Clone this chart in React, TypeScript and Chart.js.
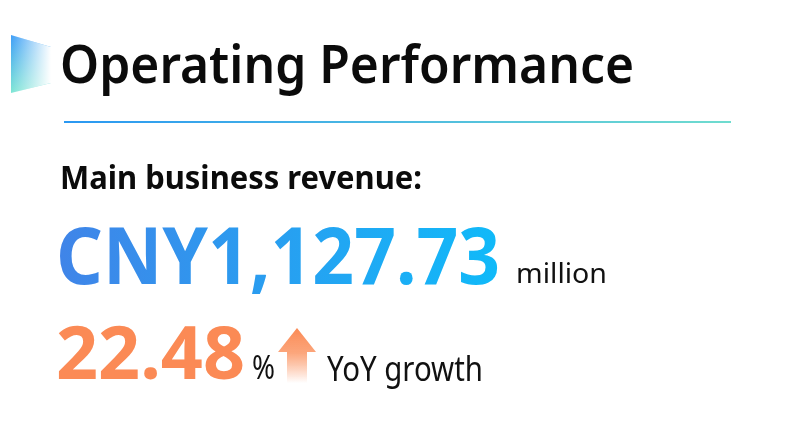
import React, { useEffect, useRef } from "react";
import { Chart, registerables } from "chart.js";

Chart.register(...registerables);

const HEADINGS = ["Operating Performance", "Main business revenue:"];
const REVENUE_CURRENCY = ["CNY"];
const REVENUE_VALUES = [1127.73];
const REVENUE_UNITS = ["million"];
const GROWTH_VALUES = [22.48];
const GROWTH_LABELS = ["%", "YoY growth"];

const FAMILY = '"Noto Sans", "Open Sans", sans-serif';

// draws text at a given font size, squeezed horizontally to a target width
function drawText(
  ctx: CanvasRenderingContext2D,
  text: string,
  weight: number,
  size: number,
  x: number,
  baseline: number,
  targetW: number,
  fill: (w: number) => string | CanvasGradient
) {
  ctx.save();
  ctx.font = `${weight} ${size}px ${FAMILY}`;
  const w = ctx.measureText(text).width;
  ctx.translate(x, baseline);
  ctx.scale(targetW / w, 1);
  ctx.fillStyle = fill(w);
  ctx.fillText(text, 0, 0);
  ctx.restore();
}

const infoPlugin = {
  id: "infoPlugin",
  afterDraw(chart: any) {
    const ctx: CanvasRenderingContext2D = chart.ctx;
    ctx.save();
    ctx.textBaseline = "alphabetic";
    ctx.textAlign = "left";
    const ink = () => "#0b0b0b";

    // decorative trapezoid
    const gv = ctx.createLinearGradient(0, 35, 0, 93);
    gv.addColorStop(0, "#3f9ef8");
    gv.addColorStop(1, "#7ee6d4");
    ctx.beginPath();
    ctx.moveTo(11, 35);
    ctx.lineTo(51, 47);
    ctx.lineTo(51, 83);
    ctx.lineTo(11, 93);
    ctx.closePath();
    ctx.fillStyle = gv;
    ctx.fill();
    const gh = ctx.createLinearGradient(11, 0, 51, 0);
    gh.addColorStop(0, "rgba(255,255,255,0)");
    gh.addColorStop(1, "rgba(255,255,255,1)");
    ctx.fillStyle = gh;
    ctx.fill();

    // title
    drawText(ctx, HEADINGS[0], 600, 53, 60, 83, 574, ink);

    // divider
    const gl = ctx.createLinearGradient(64, 0, 731, 0);
    gl.addColorStop(0, "#2a98f2");
    gl.addColorStop(1, "#6fdccf");
    ctx.fillStyle = gl;
    ctx.fillRect(64, 121, 667, 2);

    // subtitle
    drawText(ctx, HEADINGS[1], 700, 32, 60, 189, 362, ink);

    // revenue
    const valStr =
      REVENUE_CURRENCY[0] +
      REVENUE_VALUES[0].toLocaleString("en-US", { minimumFractionDigits: 2, maximumFractionDigits: 2 });
    drawText(ctx, valStr, 700, 78, 56, 284, 444, (w) => {
      const g = ctx.createLinearGradient(0, 0, w, 0);
      g.addColorStop(0, "#4084e8");
      g.addColorStop(1, "#10baf9");
      return g;
    });

    drawText(ctx, REVENUE_UNITS[0], 400, 27, 516, 283, 91, () => "#111111");

    // growth
    const gStr = GROWTH_VALUES[0].toFixed(2);
    drawText(ctx, gStr, 700, 73, 56, 379, 189, () => "#fb8a55");
    drawText(ctx, GROWTH_LABELS[0], 400, 33, 252, 379, 23, () => "#111111");

    // arrow
    const ga = ctx.createLinearGradient(0, 328, 0, 383);
    ga.addColorStop(0, "rgba(251,138,85,1)");
    ga.addColorStop(0.45, "rgba(251,150,100,0.85)");
    ga.addColorStop(1, "rgba(251,138,85,0)");
    ctx.fillStyle = ga;
    ctx.beginPath();
    ctx.moveTo(297, 328);
    ctx.lineTo(316, 352);
    ctx.lineTo(307, 352);
    ctx.lineTo(307, 383);
    ctx.lineTo(287, 383);
    ctx.lineTo(287, 352);
    ctx.lineTo(278, 352);
    ctx.closePath();
    ctx.fill();

    drawText(ctx, GROWTH_LABELS[1], 400, 34, 327, 381, 156, () => "#111111");

    ctx.restore();
  },
};

export default function App() {
  const ref = useRef<HTMLCanvasElement | null>(null);
  useEffect(() => {
    document.body.style.margin = "0";
    const canvas = ref.current!;
    const chart = new Chart(canvas, {
      type: "bar",
      data: { labels: [], datasets: [] },
      options: {
        animation: false,
        responsive: false,
        events: [],
        layout: { padding: 0 },
        plugins: { legend: { display: false }, title: { display: false }, tooltip: { enabled: false } },
        scales: { x: { display: false }, y: { display: false } },
      },
      plugins: [infoPlugin],
    });
    return () => chart.destroy();
  }, []);
  return (
    <div style={{ position: "fixed", left: 0, top: 0, width: 800, height: 435, background: "#ffffff" }}>
      <canvas ref={ref} width={800} height={435} style={{ width: 800, height: 435 }} />
    </div>
  );
}
